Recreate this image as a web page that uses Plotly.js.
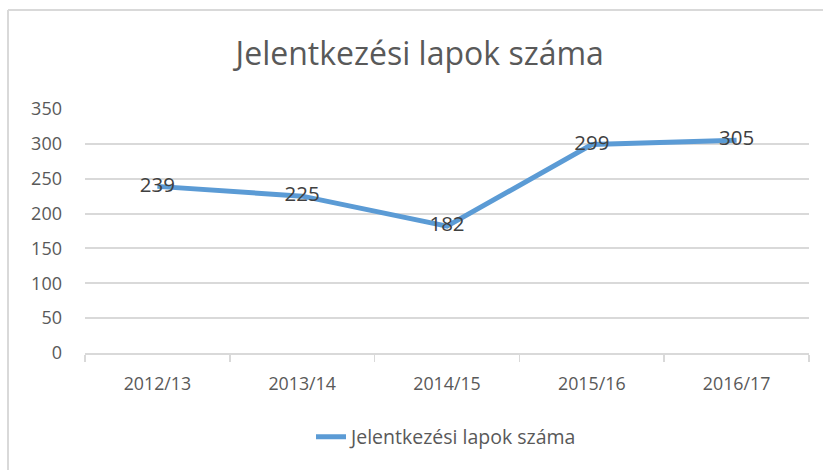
<!DOCTYPE html>
<html><head><meta charset="utf-8">
<script src="https://cdn.plot.ly/plotly-3.0.1.min.js"></script>
<style>html,body{margin:0;padding:0;background:#fff}#chart{width:823px;height:470px}</style>
</head><body><div id="chart"></div>
<script>
var categories = ["2012/13", "2013/14", "2014/15", "2015/16", "2016/17"];
var values = [239, 225, 182, 299, 305];
var seriesName = "Jelentkezési lapok száma";
var chartTitle = "Jelentkezési lapok száma";
var yTicks = [0, 50, 100, 150, 200, 250, 300, 350];

var trace = {
  x: categories, y: values, name: seriesName, type: "scatter", mode: "lines+text",
  text: values.map(String), textposition: "middle center",
  textfont: {family: "Open Sans, sans-serif", size: 20.5, color: "#404040"},
  line: {color: "#5B9BD5", width: 5}, cliponaxis: false
};
var font = "Open Sans, sans-serif";
var layout = {
  width: 823, height: 470,
  margin: {l: 85, r: 14, t: 109, b: 117},
  paper_bgcolor: "#fff", plot_bgcolor: "#fff",
  title: {text: chartTitle, x: 0.51, xanchor: "center", y: 0.885, yanchor: "middle",
          font: {family: font, size: 32, color: "#595959"}},
  xaxis: {type: "category", tickson: "boundaries", ticks: "outside", ticklen: 7, tickcolor: "#d9d9d9",
          tickwidth: 1.5,
          showline: true, linecolor: "#d9d9d9", linewidth: 2, showgrid: false,
          tickfont: {family: font, size: 17.8, color: "#595959"}, ticklabelstandoff: 14,
          range: [-0.5, 4.5], fixedrange: true},
  yaxis: {range: [0, 350], tickvals: yTicks, showgrid: true, gridcolor: "#d9d9d9", gridwidth: 2,
          zeroline: false, showline: false, ticks: "",
          tickfont: {family: font, size: 18, color: "#595959"}, ticklabelstandoff: 22},
  showlegend: true,
  legend: {orientation: "h", x: 0.5, xanchor: "center", y: -0.345, yanchor: "middle",
           font: {family: font, size: 19.5, color: "#595959"}},
  shapes: [
    {type: "line", xref: "paper", yref: "paper", x0: -77/724, x1: 1.03, y0: 1 + 99/244, y1: 1 + 99/244,
     line: {color: "#d9d9d9", width: 2}},
    {type: "line", xref: "paper", yref: "paper", x0: -77/724, x1: -77/724, y0: 1 + 99/244, y1: -1,
     line: {color: "#d9d9d9", width: 2}}
  ]
};
Plotly.newPlot("chart", [trace], layout, {displayModeBar: false, staticPlot: true});
</script></body></html>
